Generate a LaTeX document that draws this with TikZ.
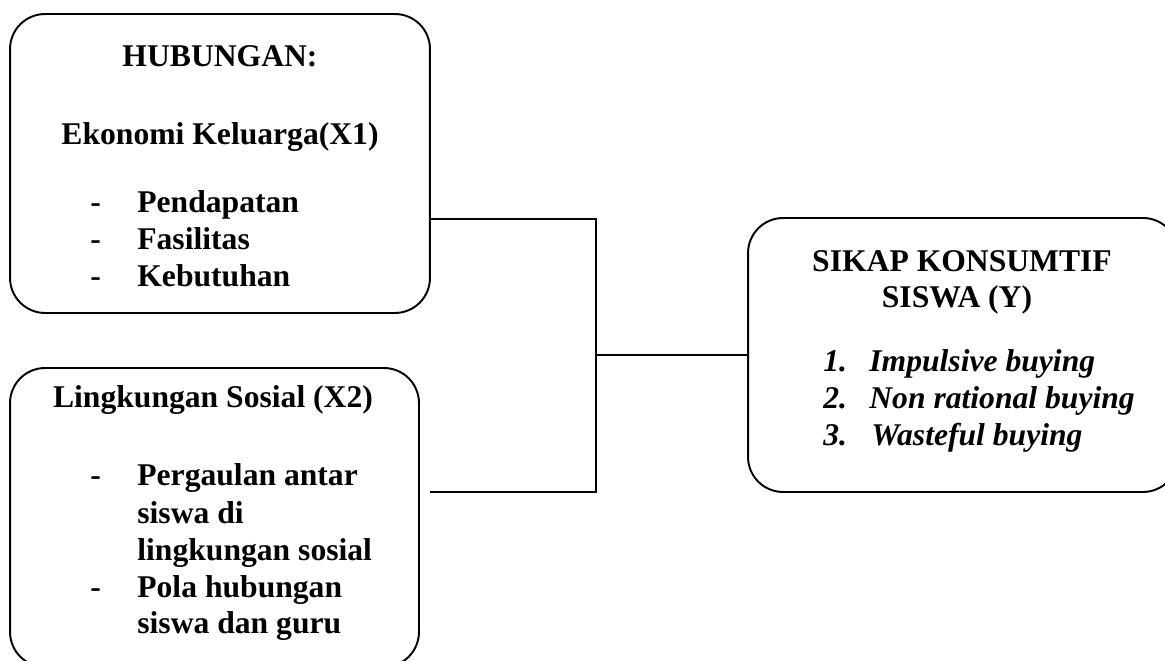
\documentclass[tikz,border=0pt]{standalone}
\usepackage{fontspec}
\setmainfont{Liberation Serif}
\begin{document}
\begin{tikzpicture}[x=0.02cm,y=-0.02cm,
  box/.style={draw, line width=1.1pt, rounded corners=0.7cm, inner sep=0pt, outer sep=0pt},
  conn/.style={line width=1.1pt},
  txt/.style={font=\fontsize{18}{21}\selectfont\bfseries, inner sep=0pt},
  itxt/.style={font=\fontsize{18}{21}\selectfont\bfseries\itshape, inner sep=0pt}]
\useasboundingbox (0,0) rectangle (1165,661);
\clip (0,0) rectangle (1165,661);
% boxes
\node[box, minimum width=8.4cm, minimum height=5.98cm] (b1) at (220,163.5) {};
\node[box, minimum width=8.18cm, minimum height=5.98cm] (b2) at (214.5,517.5) {};
\node[box, minimum width=8.6cm, minimum height=5.48cm] (b3) at (963,355) {};
% box 1 text
\node[txt, anchor=base] (h1) at (220,67) {HUBUNGAN:};
\node[txt, anchor=base] (h2) at (220,145) {Ekonomi Keluarga(X1)};
\node[txt, anchor=base west] (d1) at (90,213) {-};
\node[txt, anchor=base west] (i1) at (137,213) {Pendapatan};
\node[txt, anchor=base west] (d2) at (90,250) {-};
\node[txt, anchor=base west] (i2) at (137,250) {Fasilitas};
\node[txt, anchor=base west] (d3) at (90,287) {-};
\node[txt, anchor=base west] (i3) at (137,287) {Kebutuhan};
% box 2 text
\node[txt, anchor=base] (h3) at (213,408) {Lingkungan Sosial (X2)};
\node[txt, anchor=base west] (d4) at (90,485) {-};
\node[txt, anchor=base west] (j1a) at (137,485) {Pergaulan antar};
\node[txt, anchor=base west] (j1b) at (137,523) {siswa di};
\node[txt, anchor=base west] (j1c) at (137,560) {lingkungan sosial};
\node[txt, anchor=base west] (d5) at (90,597) {-};
\node[txt, anchor=base west] (j2a) at (137,597) {Pola hubungan};
\node[txt, anchor=base west] (j2b) at (137,633) {siswa dan guru};
% box 3 text
\node[txt, anchor=base] (h4) at (962,272) {SIKAP KONSUMTIF};
\node[txt, anchor=base] (h5) at (957,308) {SISWA (Y)};
\node[itxt, anchor=base west] (n1) at (823,372) {1.};
\node[itxt, anchor=base west] (k1) at (869,372) {Impulsive buying};
\node[itxt, anchor=base west] (n2) at (823,409) {2.};
\node[itxt, anchor=base west] (k2) at (869,409) {Non rational buying};
\node[itxt, anchor=base west] (n3) at (823,446) {3.};
\node[itxt, anchor=base west] (k3) at (871,446) {Wasteful buying};
% connectors
\coordinate (ja) at (596,219);
\coordinate (jb) at (596,492);
\coordinate (jc) at (596,355);
\coordinate (c2) at (430,492);
\draw[conn] (b1.east |- ja) -- (ja) -- (jb) -- (c2);
\draw[conn] (jc) -- (b3.west);
\end{tikzpicture}
\end{document}
